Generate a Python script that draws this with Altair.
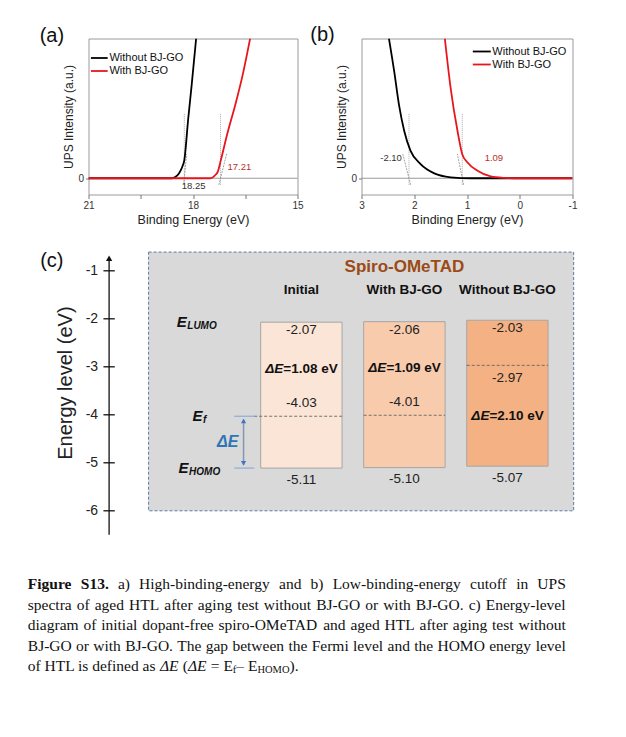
import altair as alt
import pandas as pd

# ---------------- data ----------------
series = ["Without BJ-GO", "With BJ-GO"]

# (a) high-binding-energy cutoff
a_black_x = [21.0, 18.60, 18.51, 18.42, 18.35, 18.30, 18.25, 18.14, 18.04, 17.91]
a_black_y = [0.0, 0.0, 0.8, 2.5, 5.0, 7.5, 11.0, 36.0, 57.0, 86.0]
a_red_x = [21.0, 17.50, 17.44, 17.37, 17.29, 17.20, 17.01, 16.77, 16.58, 16.36]
a_red_y = [0.0, 0.0, 0.4, 1.8, 3.9, 11.2, 27.8, 46.5, 63.0, 86.0]
a_cutoffs = [18.25, 17.21]
a_cutoff_text = ["18.25", "17.21"]
a_slopes = [220, 85]

# (b) low-binding-energy cutoff
b_black_x = [2.48, 2.38, 2.29, 2.19, 2.07, 1.88, 1.62, 1.31, 0.93, -1.0]
b_black_y = [86.0, 65.7, 45.3, 29.1, 16.9, 8.7, 3.0, 0.6, 0.0, 0.0]
b_red_x = [1.42, 1.31, 1.18, 1.09, 0.99, 0.80, 0.55, 0.30, 0.10, -1.0]
b_red_y = [86.0, 55.5, 29.1, 14.8, 9.7, 4.6, 1.1, 0.2, 0.0, 0.0]
b_cutoffs = [2.10, 1.09]
b_cutoff_text = ["-2.10", "1.09"]
b_slopes = [127, 162]

# (c) energy levels
columns = ["Initial", "With BJ-GO", "Without BJ-GO"]
e_lumo = [-2.07, -2.06, -2.03]
e_fermi = [-4.03, -4.01, -2.97]
e_homo = [-5.11, -5.10, -5.07]
delta_e = [1.08, 1.09, 2.10]
levels = [-1, -2, -3, -4, -5, -6]

caption_lines = [
    "Figure S13. a) High-binding-energy and b) Low-binding-energy cutoff in UPS",
    "spectra of aged HTL after aging test without BJ-GO or with BJ-GO. c) Energy-level",
    "diagram of initial dopant-free spiro-OMeTAD and aged HTL after aging test without",
    "BJ-GO or with BJ-GO. The gap between the Fermi level and the HOMO energy level",
]
caption_last = [("of HTL is defined as ", "n"), ("ΔE", "i"), (" (", "n"), ("ΔE", "i"),
                (" = E", "n"), ("f", "sub"), ("– E", "n"), ("HOMO", "sub"), (").", "n")]

# ---------------- styles / layout ----------------
FONT = "Liberation Sans"
SERIF = "Liberation Serif"
BLACK = "#000000"
RED = "#e8161c"
FRAME = "#9a9a9a"
ROW_GAP = 9.3           # gap between the stacked rows (flush anchors)


def anchor(X, Y, x, y0, y1):
    """white (invisible on white page) rule fixing the layout bounds of a row"""
    return alt.Chart(pd.DataFrame({"x": [x], "y": [y0], "y2": [y1]})).mark_rule(
        color="white", strokeWidth=1).encode(x=X, y=Y, y2="y2")


def spectrum(bx, by, rx, ry, cuts, cut_text, cut_pos, slopes, sign, xdom, xticks, labexpr,
             leg, letter, letter_pos, width, anchor_x=None):
    X = alt.X("x:Q", scale=alt.Scale(domain=xdom, nice=False, zero=False),
              axis=alt.Axis(values=xticks, labelExpr=labexpr, title="Binding Energy (eV)",
                            grid=False, domain=False, tickColor="#777", tickSize=4,
                            labelFontSize=10, labelColor="#333", labelPadding=2,
                            labelOverlap=False, labelFlush=False,
                            titleFontSize=12.5, titleFontWeight="normal", titleColor="#222",
                            titlePadding=3))
    Y = alt.Y("y:Q", scale=alt.Scale(domain=[-10, 86], nice=False, zero=False),
              axis=alt.Axis(values=[0], title="UPS Intensity (a.u.)", grid=False, domain=False,
                            tickSize=3, tickColor="#777", labelFontSize=10, labelColor="#333",
                            labelPadding=2, titleFontSize=12, titleFontWeight="normal",
                            titleColor="#222", titlePadding=2))
    layers = []
    if anchor_x is not None:
        layers.append(anchor(X, Y, anchor_x, 97.1, -35.2))
    zero = alt.Chart(pd.DataFrame({"y": [0]})).mark_rule(color=FRAME, strokeWidth=1).encode(y=Y)
    cutrules = alt.Chart(pd.DataFrame({"x": cuts, "y": [-4, -4], "y2": [40, 40]})).mark_rule(
        color="#aaaaaa", strokeDash=[1, 1], strokeWidth=1).encode(x=X, y=Y, y2="y2")
    tan = pd.DataFrame({
        "x": [c - sign * (-4) / s for c, s in zip(cuts, slopes)],
        "x2": [c - sign * 15 / s for c, s in zip(cuts, slopes)],
        "y": [-4, -4], "y2": [15, 15]})
    tangents = alt.Chart(tan).mark_rule(color="#8a8a8a", strokeDash=[2, 1], strokeWidth=0.8).encode(
        x=X, x2="x2", y=Y, y2="y2")
    black = alt.Chart(pd.DataFrame({"x": bx, "y": by})).mark_line(
        color=BLACK, strokeWidth=1.8, interpolate="monotone", clip=True).encode(x=X, y=Y)
    red = alt.Chart(pd.DataFrame({"x": rx, "y": ry})).mark_line(
        color=RED, strokeWidth=1.8, interpolate="monotone", clip=True).encode(x=X, y=Y)
    lx1, lx2, tx, ly1, ly2 = leg
    legdf = pd.DataFrame({"x": [lx1, lx1], "x2": [lx2, lx2], "y": [ly1, ly2], "s": series,
                          "tx": [tx, tx]})
    legrule = alt.Chart(legdf).mark_rule(strokeWidth=1.8).encode(
        x=X, x2="x2", y=Y, color=alt.Color("s:N", scale=alt.Scale(domain=series, range=[BLACK, RED]),
                                             legend=None))
    legtext = alt.Chart(legdf).mark_text(align="left", baseline="middle", fontSize=11,
                                         color="#111").encode(
        x=alt.X("tx:Q", scale=alt.Scale(domain=xdom, nice=False, zero=False)), y=Y, text="s:N")
    cl = pd.DataFrame({"x": [p[0] for p in cut_pos], "y": [p[1] for p in cut_pos],
                       "t": cut_text, "c": ["#333333", "#b5312f"]})
    cutlab = alt.Chart(cl).mark_text(fontSize=9.5, align="center", baseline="middle").encode(
        x=X, y=Y, text="t:N", color=alt.Color("c:N", scale=None))
    let = alt.Chart(pd.DataFrame({"x": [letter_pos[0]], "y": [letter_pos[1]], "t": [letter]})).mark_text(
        fontSize=20, align="center", baseline="middle", color="#111").encode(x=X, y=Y, text="t:N")
    layers += [zero, cutrules, tangents, black, red, legrule, legtext, cutlab, let]
    return alt.layer(*layers).properties(
        width=width, height=156, view=alt.ViewBackground(stroke=FRAME, strokeWidth=1))


A = spectrum(a_black_x, a_black_y, a_red_x, a_red_y, a_cutoffs, a_cutoff_text,
             [(17.98, -4.9), (16.67, 6.8)], a_slopes, 1, [21, 15], [21, 19.5, 18, 16.5, 15],
             "datum.value % 3 == 0 ? '' + datum.value : ''", (20.93, 20.45, 20.40, 74, 66),
             "(a)", (22.05, 87.5), 209, anchor_x=22.74)
B = spectrum(b_black_x, b_black_y, b_red_x, b_red_y, b_cutoffs, b_cutoff_text,
             [(2.44, 12.6), (0.49, 12.6)], b_slopes, -1, [3, -1],
             [3, 2.5, 2, 1.5, 1, 0.5, 0, -0.5, -1],
             "datum.value % 1 == 0 ? '' + datum.value : ''", (0.89, 0.55, 0.52, 78, 70),
             "(b)", (3.74, 88), 211)

# ---------------- panel (c) ----------------
CXD = [-1.066, 3.69]
CYD = [-6.55, -0.5]


def XC(f):
    return alt.X(f + ":Q", scale=alt.Scale(domain=CXD, nice=False, zero=False), axis=None)


def YC(f):
    return alt.Y(f + ":Q", scale=alt.Scale(domain=CYD, nice=False, zero=False), axis=None)


fills = ["#fbe5d6", "#f8cbad", "#f4b183"]
half = 0.395
cdf = pd.DataFrame({
    "col": columns,
    "idx": [1, 2, 3],
    "lumo": e_lumo, "fermi": e_fermi, "homo": e_homo, "de": delta_e,
})
cdf["x0"] = cdf["idx"] - half
cdf["x1"] = cdf["idx"] + half
cdf["fx0"] = [0.542] + list(cdf["x0"][1:])
cdf["lumo_t"] = cdf["lumo"].map(lambda v: f"{v:.2f}")
cdf["fermi_t"] = cdf["fermi"].map(lambda v: f"{v:.2f}")
cdf["homo_t"] = cdf["homo"].map(lambda v: f"{v:.2f}")
cdf["de_t"] = cdf["de"].map(lambda v: f"={v:.2f} eV")
cdf["de_lab"] = "ΔE"
cdf["lumo_y"] = cdf["lumo"] - 0.17
cdf["homo_y"] = cdf["homo"] - 0.24
cdf["fermi_y"] = [f + 0.27 if f < -3.5 else f - 0.27 for f in cdf["fermi"]]
cdf["de_y"] = [(l + f) / 2 if f < -3.5 else (f + h) / 2 for l, f, h in
               zip(cdf["lumo"], cdf["fermi"], cdf["homo"])]
cdf["head_y"] = -1.40

c_anchor = anchor(XC("x"), YC("y"), -1.655, CYD[1], CYD[0])
graybox = alt.Chart(pd.DataFrame({"x": [-0.483], "x2": [3.643], "y": [-6.0], "y2": [-0.61]})).mark_rect(
    fill="#d9d9d9", stroke="#5b7ba6", strokeDash=[3, 2], strokeWidth=1).encode(
    x=XC("x"), x2="x2", y=YC("y"), y2="y2")
boxes = alt.Chart(cdf).mark_rect(stroke="#a6a6a6", strokeWidth=1).encode(
    x=XC("x0"), x2="x1", y=YC("homo"), y2="lumo",
    fill=alt.Fill("col:N", scale=alt.Scale(domain=columns, range=fills), legend=None))
fermi_lines = alt.Chart(cdf).mark_rule(color="#666666", strokeDash=[3, 2], strokeWidth=0.9).encode(
    x=XC("fx0"), x2="x1", y=YC("fermi"))
heads = alt.Chart(cdf).mark_text(fontSize=13.5, fontWeight="bold", color="#111").encode(
    x=XC("idx"), y=YC("head_y"), text="col:N")
spiro = alt.Chart(pd.DataFrame({"x": [2.0], "y": [-0.93], "t": ["Spiro-OMeTAD"]})).mark_text(
    fontSize=17, fontWeight="bold", color="#9c4a17").encode(x=XC("x"), y=YC("y"), text="t:N")
lumo_t = alt.Chart(cdf).mark_text(fontSize=13.5, color="#222").encode(
    x=XC("idx"), y=YC("lumo_y"), text="lumo_t:N")
homo_t = alt.Chart(cdf).mark_text(fontSize=13.5, color="#222").encode(
    x=XC("idx"), y=YC("homo_y"), text="homo_t:N")
fermi_t = alt.Chart(cdf).mark_text(fontSize=13.5, color="#222").encode(
    x=XC("idx"), y=YC("fermi_y"), text="fermi_t:N")
de_a = alt.Chart(cdf).mark_text(fontSize=13.5, fontWeight="bold", fontStyle="italic", align="right",
                                dx=-18, color="#111").encode(x=XC("idx"), y=YC("de_y"), text="de_lab:N")
de_b = alt.Chart(cdf).mark_text(fontSize=13.5, fontWeight="bold", align="left", dx=-18,
                                color="#111").encode(x=XC("idx"), y=YC("de_y"), text="de_t:N")

ldf = pd.DataFrame({"x": [-0.209, -0.056, -0.192], "y": [e_lumo[0], e_fermi[0], e_homo[0]],
                    "e": ["E", "E", "E"], "sub": ["LUMO", "f", "HOMO"]})
e_main = alt.Chart(ldf).mark_text(fontSize=15, fontWeight="bold", fontStyle="italic", align="left",
                                  color="#111").encode(x=XC("x"), y=YC("y"), text="e:N")
e_sub = alt.Chart(ldf).mark_text(fontSize=10, fontWeight="bold", fontStyle="italic", align="left",
                                 dx=10.5, dy=4, color="#111").encode(x=XC("x"), y=YC("y"), text="sub:N")
blue_lab = alt.Chart(pd.DataFrame({"x": [0.286], "y": [(e_fermi[0] + e_homo[0]) / 2], "t": ["ΔE"]})).mark_text(
    fontSize=16, fontWeight="bold", fontStyle="italic", color="#2e75b6").encode(
    x=XC("x"), y=YC("y"), text="t:N")
hlines = alt.Chart(pd.DataFrame({"x": [0.348, 0.348], "x2": [0.542, 0.542],
                                 "y": [e_fermi[0], e_homo[0]]})).mark_rule(
    color="#8faadc", strokeWidth=1.2).encode(x=XC("x"), x2="x2", y=YC("y"))
arrow_line = alt.Chart(pd.DataFrame({"x": [0.439], "y": [e_fermi[0] - 0.06], "y2": [e_homo[0] + 0.06]})).mark_rule(
    color="#8497b0", strokeWidth=1.5).encode(x=XC("x"), y=YC("y"), y2="y2")
arrow_up = alt.Chart(pd.DataFrame({"x": [0.439], "y": [e_fermi[0] - 0.1]})).mark_point(
    shape="triangle-up", filled=True, size=28, color="#4472c4", opacity=1).encode(x=XC("x"), y=YC("y"))
arrow_dn = alt.Chart(pd.DataFrame({"x": [0.439], "y": [e_homo[0] + 0.1]})).mark_point(
    shape="triangle-down", filled=True, size=28, color="#4472c4", opacity=1).encode(x=XC("x"), y=YC("y"))

axis_line = alt.Chart(pd.DataFrame({"x": [-0.866], "y": [-6.5], "y2": [-0.78]})).mark_rule(
    color="#111", strokeWidth=1.3).encode(x=XC("x"), y=YC("y"), y2="y2")
axis_arrow = alt.Chart(pd.DataFrame({"x": [-0.866], "y": [-0.74]})).mark_point(
    shape="triangle-up", filled=True, size=40, color="#111", opacity=1).encode(x=XC("x"), y=YC("y"))
tdf = pd.DataFrame({"y": levels, "x": [-0.921] * 6, "x2": [-0.811] * 6, "lx": [-0.973] * 6,
                    "t": [str(v) for v in levels]})
ticks = alt.Chart(tdf).mark_rule(color="#111", strokeWidth=1.3).encode(x=XC("x"), x2="x2", y=YC("y"))
tlabels = alt.Chart(tdf).mark_text(fontSize=14, align="right", baseline="middle", color="#222").encode(
    x=XC("lx"), y=YC("y"), text="t:N")
ytitle = alt.Chart(pd.DataFrame({"x": [-1.286], "y": [-3.34], "t": ["Energy level (eV)"]})).mark_text(
    fontSize=20, angle=270, align="center", baseline="middle", color="#222").encode(
    x=XC("x"), y=YC("y"), text="t:N")
cletter = alt.Chart(pd.DataFrame({"x": [-1.422], "y": [-0.806], "t": ["(c)"]})).mark_text(
    fontSize=20, align="center", baseline="middle", color="#111").encode(x=XC("x"), y=YC("y"), text="t:N")

C = alt.layer(c_anchor, graybox, boxes, fermi_lines, heads, spiro, lumo_t, homo_t, fermi_t, de_a, de_b,
              e_main, e_sub, blue_lab, hlines, arrow_line, arrow_up, arrow_dn,
              axis_line, axis_arrow, ticks, tlabels, ytitle, cletter).properties(
    width=490, height=290.4)

# ---------------- caption ----------------
TR = {' ': 250, '(': 333, ')': 333, ',': 250, '-': 333, '.': 250, '=': 564, ':': 278,
      'Δ': 612, '–': 500}
for d in "0123456789":
    TR[d] = 500
TR.update(dict(zip("ABCDEFGHIJKLMNOPQRSTUVWXYZ",
                   [722, 667, 667, 722, 611, 556, 722, 722, 333, 389, 722, 611, 889, 722, 722, 556,
                    722, 667, 556, 611, 722, 722, 944, 722, 722, 611])))
TR.update(dict(zip("abcdefghijklmnopqrstuvwxyz",
                   [444, 500, 444, 500, 444, 333, 500, 500, 278, 278, 500, 278, 778, 500, 500, 500,
                    500, 333, 389, 278, 500, 500, 722, 500, 500, 444])))
TB = dict(TR)
TB.update({'F': 611, 'u': 556, 'r': 444, 'S': 556})


def tw(s, size, bold=False):
    tab = TB if bold else TR
    return sum(tab.get(ch, 500) for ch in s) * size / 1000.0


CAP_SIZE = 15.5
SUB_SIZE = 10.5
LEFT, RIGHT = 27.0, 565.0
line_y = [581.0, 601.5, 622.0, 642.5, 663.0]

rows = []
for li, line in enumerate(caption_lines):
    words = line.split(" ")
    bolds = [li == 0 and wi < 2 for wi in range(len(words))]
    widths = [tw(w, CAP_SIZE, b) for w, b in zip(words, bolds)]
    gap = (RIGHT - LEFT - sum(widths)) / (len(words) - 1)
    x = LEFT
    for w, b, wd in zip(words, bolds, widths):
        rows.append({"x": x, "y": line_y[li], "t": w, "k": "b" if b else "n"})
        x += wd + gap
x = LEFT
for txt, k in caption_last:
    size = SUB_SIZE if k == "sub" else CAP_SIZE
    lead = len(txt) - len(txt.lstrip(" "))
    rows.append({"x": x + tw(" " * lead, size), "y": line_y[4], "t": txt.strip(" "), "k": k})
    x += tw(txt, size)
capdf = pd.DataFrame(rows)

CAP_TOP = 535.7 + ROW_GAP
CAP_BOTTOM = CAP_TOP + 140
CX = alt.X("x:Q", scale=alt.Scale(domain=[87.7, 577.7], nice=False, zero=False), axis=None)
CY = alt.Y("y:Q", scale=alt.Scale(domain=[CAP_TOP, CAP_BOTTOM], nice=False, zero=False, reverse=True),
           axis=None)


def cap_layer(kind, **kw):
    return alt.Chart(capdf[capdf["k"] == kind]).mark_text(
        font=SERIF, align="left", baseline="middle", color="#111", **kw).encode(x=CX, y=CY, text="t:N")


CAP = alt.layer(
    anchor(CX, CY, 27.0, CAP_TOP, CAP_BOTTOM),
    cap_layer("n", fontSize=CAP_SIZE),
    cap_layer("b", fontSize=CAP_SIZE, fontWeight="bold"),
    cap_layer("i", fontSize=CAP_SIZE, fontStyle="italic"),
    cap_layer("sub", fontSize=SUB_SIZE, dy=3.5),
).properties(width=490, height=140)

row1 = alt.hconcat(A, B, spacing=64, bounds="flush")
chart = alt.vconcat(row1, C, CAP, spacing=ROW_GAP).properties(
    padding={"left": 18.5, "top": 10.5, "right": 5, "bottom": 5},
    background="white",
).configure(font=FONT).configure_view(stroke=None)

chart.save("out.html", embed_options={"renderer": "svg", "actions": False})
